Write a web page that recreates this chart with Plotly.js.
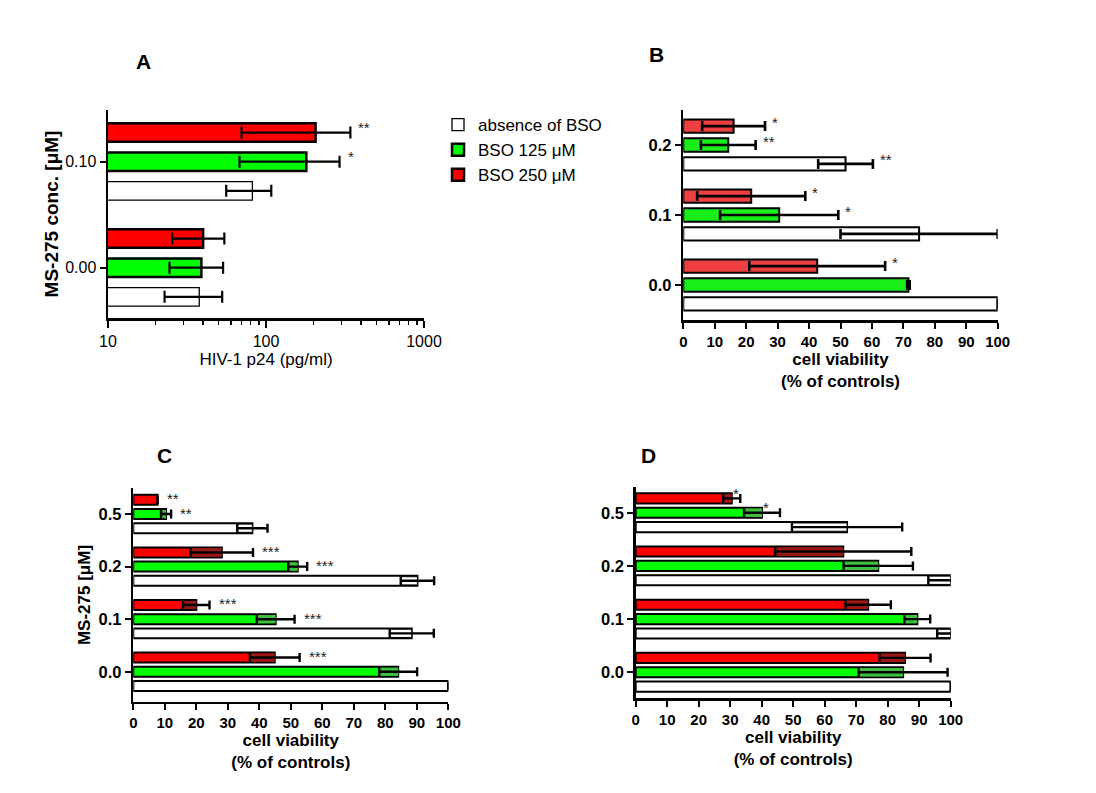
<!DOCTYPE html>
<html><head><meta charset="utf-8">
<script src="https://cdn.plot.ly/plotly-3.0.1.min.js"></script>
<style>html,body{margin:0;padding:0;background:#fff}</style>
</head><body><div id="chart" style="width:1096px;height:793px"></div>
<script>
// ---------- data ----------
const seriesNames = ["absence of BSO", "BSO 125 μM", "BSO 250 μM"];

// Panel A: HIV-1 p24 (pg/ml), log axis
const catsA = ["0.00", "0.10"];
const aAbsence = [37.8, 82];
const aAbsenceSD = [15, 26];
const aBso125 = [39, 180];
const aBso125SD = [14.5, 112];
const aBso250 = [40, 206];
const aBso250SD = [14.5, 136];
const aStarsAbsence = ["", ""];
const aStars125 = ["", "*"];
const aStars250 = ["", "**"];
const aTicks = [10, 100, 1000];

// Panel B: cell viability (% of controls)
const catsB = ["0.0", "0.1", "0.2"];
const bAbsence = [100, 75, 51.6];
const bAbsenceSD = [0, 25, 8.7];
const bBso125 = [71.6, 30.5, 14.3];
const bBso125SD = [0.4, 18.8, 8.7];
const bBso250 = [42.6, 21.6, 16];
const bBso250SD = [21.6, 17.2, 10];
const bStarsAbsence = ["", "", "**"];
const bStars125 = ["", "*", "**"];
const bStars250 = ["*", "*", "*"];

// Panel C
const catsC = ["0.0", "0.1", "0.2", "0.5"];
const cAbsence = [100, 88.4, 90.2, 37.8];
const cAbsenceSD = [0, 7, 5.3, 4.8];
const cBso125 = [84.1, 45.2, 52.2, 10.4];
const cBso125SD = [6, 6, 3, 1.6];
const cBso250 = [44.9, 20, 28.1, 7.7];
const cBso250SD = [7.9, 4.2, 9.9, 0];
const cStarsAbsence = ["", "", "", ""];
const cStars125 = ["", "***", "***", "**"];
const cStars250 = ["***", "***", "***", "**"];

// Panel D
const catsD = ["0.0", "0.1", "0.2", "0.5"];
const dAbsence = [100, 100, 100, 67.1];
const dAbsenceSD = [0, 4.3, 7.1, 17.5];
const dBso125 = [84.9, 89.4, 77, 40.1];
const dBso125SD = [14.1, 4.1, 11, 5.7];
const dBso250 = [85.5, 73.8, 65.9, 30.5];
const dBso250SD = [8.1, 7.2, 21.6, 2.7];
const dStarsAbsence = ["", "", "", ""];
const dStars125 = ["", "", "", "*"];
const dStars250 = ["", "", "", "*"];

const linTicks = [0, 10, 20, 30, 40, 50, 60, 70, 80, 90, 100];

// ---------- build ----------
const FONT = "Liberation Sans, Arial, Helvetica, sans-serif";
const traces = [];
const annotations = [];

function addPanel(p) {
  for (let k = 0; k < 3; k++) {
    const s = p.series[k];
    const off = (k - 1) * p.slot - p.w / 2;
    const main = {
      type: "bar", orientation: "h", name: seriesNames[k],
      y: p.cats, x: s.v, xaxis: p.xa, yaxis: p.ya,
      width: p.w, offset: off,
      marker: {color: p.colors[k], line: {color: "#000", width: k === 0 ? p.lw0 : p.lw}},
      showlegend: !!p.legend, hoverinfo: "x+y"
    };
    const err = {type: "data", array: s.e, visible: true, color: "#000",
                 thickness: p.errThick, width: p.capW};
    if (p.shade) {
      traces.push(main);
      const inner = p.w * 0.82;
      traces.push({
        type: "bar", orientation: "h", showlegend: false,
        y: p.cats, x: s.e, base: s.v.map((v, i) => v - s.e[i]),
        xaxis: p.xa, yaxis: p.ya, width: inner, offset: (k - 1) * p.slot - inner / 2,
        marker: {color: p.shadeColors[k], line: {color: "#000", width: k === 0 ? 1 : 0}},
        error_x: err, hoverinfo: "skip"
      });
    } else {
      main.error_x = err;
      traces.push(main);
    }
    // significance stars
    s.stars.forEach((txt, i) => {
      if (!txt) return;
      const yc = i + (k - 1) * p.slot;
      let ann;
      if (p.starMode === "top") {
        ann = {x: s.v[i], y: yc + p.w / 2, xanchor: "center", yanchor: "middle", xshift: 4, yshift: 0};
      } else {
        const xe = s.v[i] + s.e[i];
        ann = {x: p.log ? Math.log10(xe) : xe, y: yc, xanchor: "left", yanchor: "middle",
               xshift: p.starShift, yshift: p.starY};
      }
      Object.assign(ann, {text: txt, showarrow: false, xref: p.xa, yref: p.ya,
        font: {family: FONT, size: 15, color: "#222"}});
      annotations.push(ann);
    });
  }
}

const bright = ["#ffffff", "#00ff00", "#ff0000"];
const shadeCols = ["#ffffff", "#3fbf3f", "#9a1818"];

addPanel({xa: "x", ya: "y", cats: catsA, log: true, legend: true,
  series: [{v: aAbsence, e: aAbsenceSD, stars: aStarsAbsence},
           {v: aBso125, e: aBso125SD, stars: aStars125},
           {v: aBso250, e: aBso250SD, stars: aStars250}],
  slot: 0.275, w: 0.175, colors: bright, lw0: 1.3, lw: 2.5, errThick: 2.2, capW: 6,
  starShift: 6, starY: 5});
addPanel({xa: "x2", ya: "y2", cats: catsB,
  series: [{v: bAbsence, e: bAbsenceSD, stars: bStarsAbsence},
           {v: bBso125, e: bBso125SD, stars: bStars125},
           {v: bBso250, e: bBso250SD, stars: bStars250}],
  slot: 0.27, w: 0.19, colors: ["#ffffff", "#1aee1a", "#ee4040"], lw0: 2, lw: 2, errThick: 2.6, capW: 5,
  starShift: 5, starY: 4});
addPanel({xa: "x3", ya: "y3", cats: catsC, shade: true, shadeColors: shadeCols,
  series: [{v: cAbsence, e: cAbsenceSD, stars: cStarsAbsence},
           {v: cBso125, e: cBso125SD, stars: cStars125},
           {v: cBso250, e: cBso250SD, stars: cStars250}],
  slot: 0.27, w: 0.19, colors: bright, lw0: 2, lw: 2, errThick: 2.4, capW: 4.5,
  starShift: 7, starY: 1});
addPanel({xa: "x4", ya: "y4", cats: catsD, shade: true, shadeColors: shadeCols, starMode: "top",
  series: [{v: dAbsence, e: dAbsenceSD, stars: dStarsAbsence},
           {v: dBso125, e: dBso125SD, stars: dStars125},
           {v: dBso250, e: dBso250SD, stars: dStars250}],
  slot: 0.27, w: 0.19, colors: bright, lw0: 2, lw: 2, errThick: 2.4, capW: 4.5});

// panel letters
[["A", 143, 62], ["B", 656, 55], ["C", 164, 455], ["D", 648, 455]].forEach(([t, px, py]) => {
  annotations.push({text: t, xref: "paper", yref: "paper", x: px / 1096, y: 1 - py / 793,
    xanchor: "center", yanchor: "middle", showarrow: false,
    font: {family: FONT, size: 21, color: "#000", weight: "bold"}});
});

function baseAxis(extra) {
  return Object.assign({
    showline: true, linewidth: 2.5, linecolor: "#000", ticks: "outside", ticklen: 6,
    tickwidth: 2, tickcolor: "#000", showgrid: false, zeroline: false, fixedrange: true
  }, extra);
}
const boldTickX = {family: FONT, size: 15, color: "#000", weight: "bold"};
const boldTickY = {family: FONT, size: 16.5, color: "#000", weight: "bold"};
const boldTitle = {family: FONT, size: 17, color: "#000", weight: "bold"};

const layout = {
  width: 1096, height: 793, autosize: false,
  margin: {l: 0, r: 0, t: 0, b: 0},
  paper_bgcolor: "#fff", plot_bgcolor: "rgba(0,0,0,0)",
  barmode: "overlay",
  font: {family: FONT, color: "#000"},
  showlegend: true,
  legend: {x: 438 / 1096, y: 1 - 107 / 793, xanchor: "left", yanchor: "top",
    font: {family: FONT, size: 17, color: "#000"}, traceorder: "normal",
    bgcolor: "rgba(0,0,0,0)", itemwidth: 30, tracegroupgap: 0},
  xaxis: baseAxis({domain: [108 / 1096, 424 / 1096], anchor: "y", type: "log", range: [1, 3],
    tickvals: aTicks, ticktext: aTicks.map(String), ticklen: 7,
    minor: {ticks: "outside", ticklen: 4, tickwidth: 1.5, tickcolor: "#000", dtick: "D1", showgrid: false},
    tickfont: {family: FONT, size: 16, color: "#000"},
    title: {text: "HIV-1 p24 (pg/ml)", font: {family: FONT, size: 17, color: "#000"}, standoff: 5}}),
  yaxis: baseAxis({domain: [1 - 318 / 793, 1 - 110 / 793], anchor: "x", type: "category",
    categoryorder: "array", categoryarray: catsA, range: [-0.475, 1.488],
    tickfont: {family: FONT, size: 16, color: "#000"},
    title: {text: "MS-275 conc. [μM]", font: {family: FONT, size: 19, color: "#000", weight: "bold"}, standoff: 2}}),
  xaxis2: baseAxis({domain: [683.3 / 1096, 997.7 / 1096], anchor: "y2", range: [0, 100],
    tickvals: linTicks, tickfont: boldTickX,
    title: {text: "cell viability<br>(% of controls)", font: boldTitle, standoff: 5}}),
  yaxis2: baseAxis({domain: [1 - 320 / 793, 1 - 110 / 793], anchor: "x2", type: "category",
    categoryorder: "array", categoryarray: catsB, range: [-0.5, 2.5], tickfont: boldTickY}),
  xaxis3: baseAxis({domain: [133.3 / 1096, 448.3 / 1096], anchor: "y3", range: [0, 100],
    tickvals: linTicks, tickfont: boldTickX,
    title: {text: "cell viability<br>(% of controls)", font: boldTitle, standoff: 3}}),
  yaxis3: baseAxis({domain: [1 - 701.7 / 793, 1 - 488.3 / 793], anchor: "x3", type: "category",
    categoryorder: "array", categoryarray: catsC, range: [-0.57, 3.49], tickfont: boldTickY,
    title: {text: "MS-275 [μM]", font: boldTitle, standoff: 4}}),
  xaxis4: baseAxis({domain: [635.7 / 1096, 950.7 / 1096], anchor: "y4", range: [0, 100],
    tickvals: linTicks, tickfont: boldTickX,
    title: {text: "cell viability<br>(% of controls)", font: boldTitle, standoff: 3}}),
  yaxis4: baseAxis({domain: [1 - 698.3 / 793, 1 - 486.7 / 793], anchor: "x4", type: "category",
    categoryorder: "array", categoryarray: catsD, range: [-0.49, 3.49], tickfont: boldTickY}),
  annotations: annotations
};

Plotly.newPlot("chart", traces, layout, {displayModeBar: false, staticPlot: true});
</script></body></html>
